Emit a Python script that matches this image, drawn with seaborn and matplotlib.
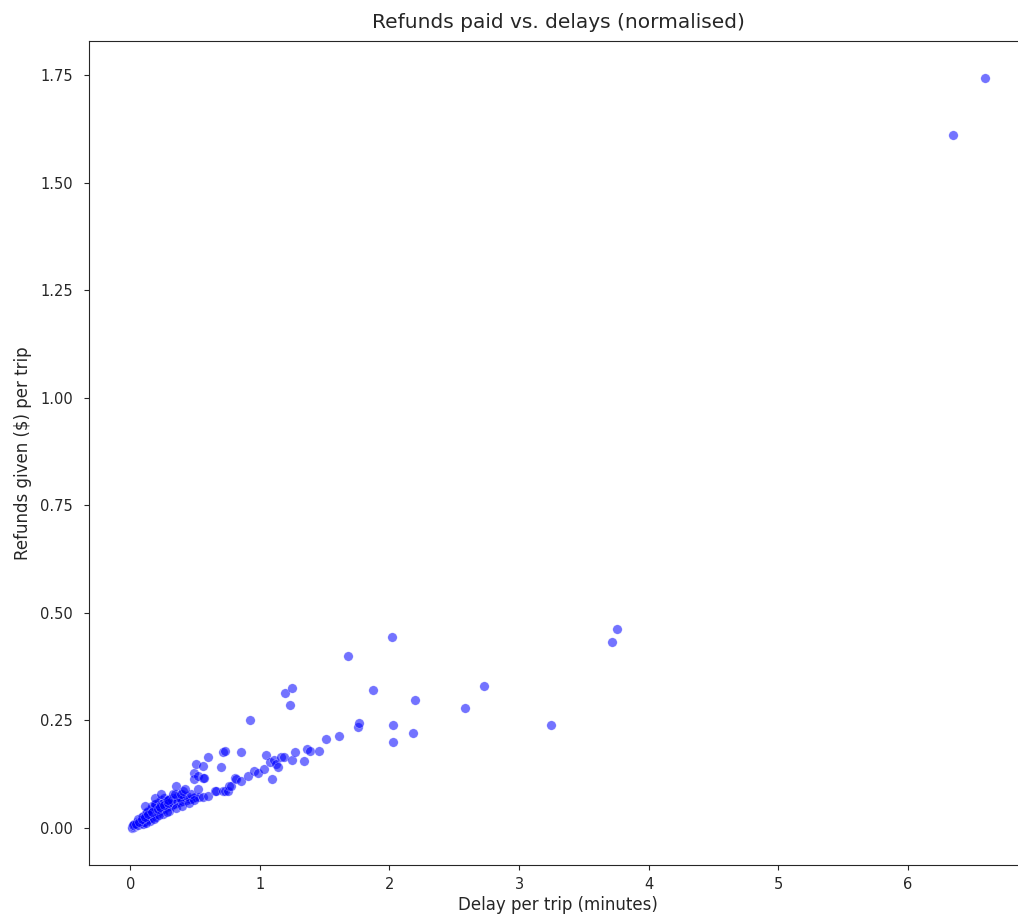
import matplotlib
matplotlib.use("Agg")
import matplotlib.pyplot as plt
import seaborn as sns
import pandas as pd

# Delay per trip (minutes) and refunds per trip ($)
delay = [
    # dense cluster near origin
    0.01, 0.015, 0.02, 0.02, 0.025, 0.03, 0.03, 0.035, 0.04, 0.04, 0.045, 0.05, 0.05,
    0.055, 0.06, 0.06, 0.065, 0.07, 0.07, 0.075, 0.08, 0.08, 0.085, 0.09, 0.09, 0.095,
    0.1, 0.1, 0.105, 0.11, 0.11, 0.115, 0.12, 0.12, 0.125, 0.13, 0.13, 0.135, 0.14, 0.14,
    0.145, 0.15, 0.15, 0.155, 0.16, 0.16, 0.165, 0.17, 0.17, 0.175, 0.18, 0.18, 0.185,
    0.19, 0.19, 0.2, 0.2, 0.2, 0.21, 0.21, 0.22, 0.22, 0.23, 0.23, 0.24, 0.24, 0.25, 0.25,
    0.26, 0.26, 0.27, 0.28, 0.28, 0.29, 0.3, 0.3, 0.31, 0.32, 0.33, 0.34, 0.35, 0.36,
    0.37, 0.38, 0.4, 0.42, 0.44, 0.46, 0.48, 0.5, 0.53, 0.56, 0.6,
    0.05, 0.08, 0.1, 0.12, 0.14, 0.16, 0.2, 0.22, 0.25, 0.27, 0.3, 0.33, 0.36, 0.4,
    0.03, 0.06, 0.09, 0.13, 0.17, 0.19, 0.24, 0.28, 0.32, 0.38, 0.44, 0.47,
    0.1, 0.15, 0.2, 0.25, 0.3, 0.35, 0.4, 0.45, 0.12, 0.18, 0.22, 0.28,
    0.02, 0.04, 0.07, 0.09, 0.11, 0.14, 0.17, 0.21, 0.23, 0.26, 0.29,
    # upper edge of the cluster
    0.11, 0.187, 0.239, 0.29, 0.329, 0.341, 0.354, 0.393, 0.406, 0.418, 0.495, 0.495,
    0.495, 0.508, 0.521, 0.526, 0.56, 0.56, 0.572, 0.598, 0.701, 0.714, 0.732, 0.857,
    # main band
    0.65, 0.663, 0.716, 0.727, 0.753, 0.765, 0.778, 0.809, 0.817, 0.855, 0.907, 0.958,
    0.984, 1.03, 1.05, 1.081, 1.094, 1.112, 1.125, 1.138, 1.163, 1.184, 1.248, 1.274,
    1.338, 1.361, 1.384, 1.456, 1.507, 1.613, 1.754, 1.767,
    # scattered points
    0.927, 1.192, 1.235, 1.248, 1.677, 1.870, 2.016, 2.029, 2.029, 2.185, 2.196,
    2.583, 2.727, 3.249, 3.716, 3.757, 6.348, 6.595,
]
refund = [
    0.001, 0.002, 0.002, 0.004, 0.003, 0.004, 0.006, 0.005, 0.006, 0.008, 0.007, 0.006, 0.009,
    0.008, 0.010, 0.007, 0.012, 0.010, 0.013, 0.011, 0.012, 0.016, 0.014, 0.013, 0.018, 0.015,
    0.016, 0.020, 0.014, 0.018, 0.022, 0.017, 0.020, 0.025, 0.019, 0.022, 0.028, 0.021, 0.024, 0.030,
    0.022, 0.025, 0.033, 0.024, 0.028, 0.036, 0.026, 0.030, 0.040, 0.028, 0.032, 0.045, 0.030,
    0.034, 0.050, 0.032, 0.036, 0.055, 0.035, 0.040, 0.038, 0.060, 0.040, 0.045, 0.042, 0.065, 0.043, 0.050,
    0.045, 0.070, 0.047, 0.048, 0.055, 0.050, 0.050, 0.060, 0.052, 0.054, 0.055, 0.056, 0.058, 0.060,
    0.062, 0.060, 0.063, 0.065, 0.066, 0.068, 0.070, 0.071, 0.072, 0.073, 0.075,
    0.015, 0.022, 0.028, 0.035, 0.040, 0.045, 0.047, 0.052, 0.058, 0.062, 0.068, 0.070, 0.072, 0.078,
    0.010, 0.020, 0.025, 0.038, 0.050, 0.055, 0.056, 0.065, 0.065, 0.070, 0.075, 0.080,
    0.010, 0.017, 0.025, 0.033, 0.040, 0.047, 0.052, 0.058, 0.012, 0.022, 0.030, 0.037,
    0.006, 0.010, 0.015, 0.020, 0.026, 0.032, 0.038, 0.044, 0.048, 0.053, 0.058,
    0.051, 0.070, 0.078, 0.066, 0.078, 0.078, 0.098, 0.079, 0.086, 0.091, 0.129, 0.114,
    0.066, 0.148, 0.090, 0.121, 0.145, 0.117, 0.117, 0.164, 0.141, 0.177, 0.180, 0.176,
    0.085, 0.086, 0.085, 0.086, 0.086, 0.098, 0.098, 0.117, 0.113, 0.110, 0.121, 0.133,
    0.129, 0.137, 0.169, 0.153, 0.114, 0.157, 0.149, 0.141, 0.164, 0.166, 0.159, 0.177,
    0.156, 0.184, 0.180, 0.180, 0.208, 0.215, 0.234, 0.243,
    0.251, 0.313, 0.286, 0.326, 0.400, 0.321, 0.444, 0.239, 0.199, 0.222, 0.298,
    0.278, 0.329, 0.239, 0.432, 0.463, 1.612, 1.743,
]

df = pd.DataFrame({"delay": delay, "refund": refund})

fig = plt.figure(figsize=(10.18, 9.21), dpi=100)
ax = fig.add_axes([0.0874, 0.0608, 0.922, 0.8947])

sns.scatterplot(data=df, x="delay", y="refund", color="blue", alpha=0.55,
                s=46, edgecolor="white", linewidth=0.3, ax=ax)

ax.set_title("Refunds paid vs. delays (normalised)", fontsize=14.5, color="#262626", pad=9)
ax.set_xlabel("Delay per trip (minutes)", fontsize=12, color="#262626", labelpad=3)
ax.set_ylabel("Refunds given ($) per trip", fontsize=12, color="#262626", labelpad=6)
ax.set_yticks([0.0, 0.25, 0.5, 0.75, 1.0, 1.25, 1.5, 1.75])
ax.set_yticklabels(["0.00", "0.25", "0.50", "0.75", "1.00", "1.25", "1.50", "1.75"])
ax.set_xticks([0, 1, 2, 3, 4, 5, 6])
ax.tick_params(labelsize=10.5, colors="#262626")
ax.tick_params(axis="y", pad=8)
ax.tick_params(axis="x", pad=5)
for sp in ax.spines.values():
    sp.set_color("#262626")

fig.savefig("out.png", dpi=100)
